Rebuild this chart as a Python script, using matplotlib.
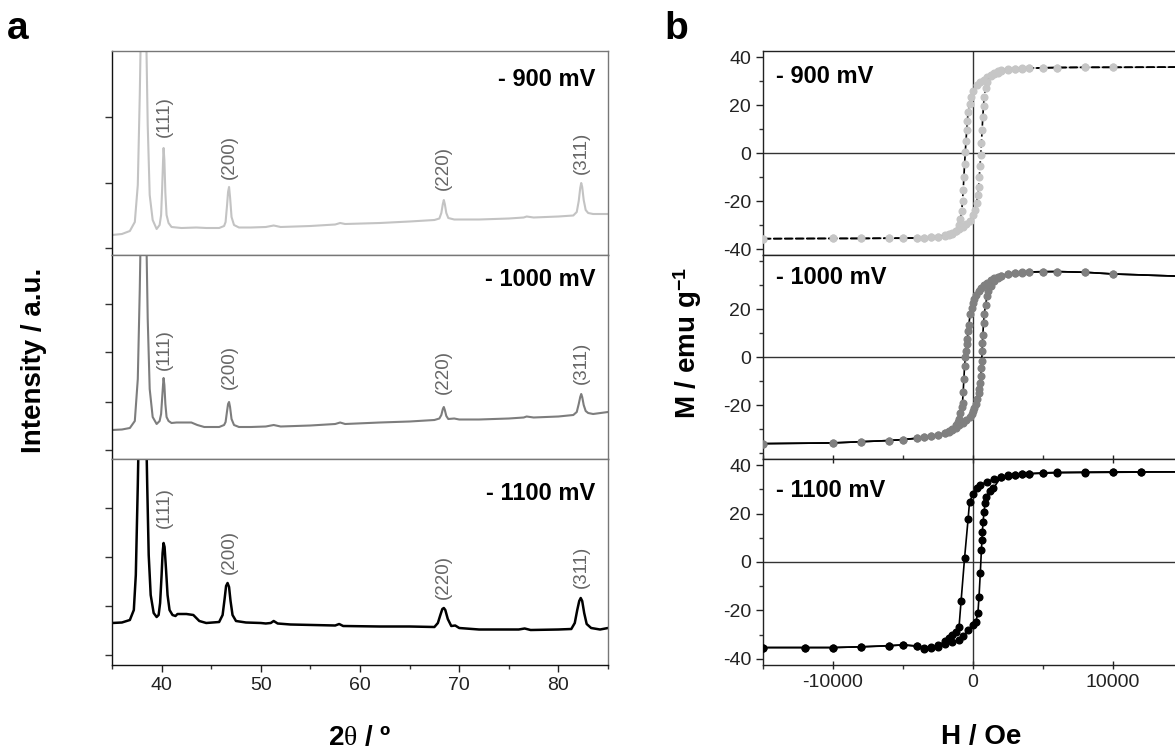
import matplotlib
matplotlib.use("Agg")
import matplotlib.pyplot as plt
from matplotlib.ticker import MultipleLocator

plt.rcParams['font.family'] = ['Liberation Sans', 'DejaVu Sans']
plt.rcParams['mathtext.fontset'] = 'custom'
plt.rcParams['mathtext.rm'] = 'Liberation Serif'
plt.rcParams['mathtext.it'] = 'Liberation Serif'
plt.rcParams['mathtext.bf'] = 'Liberation Sans:bold'
plt.rcParams['axes.unicode_minus'] = False

# ---------------- XRD data (2theta, intensity a.u.) ----------------
tt_900 = [35.0, 36.0, 36.8, 37.3, 37.6, 37.8, 38.0, 38.2, 38.4, 38.6, 38.8, 39.1, 39.5, 39.8, 39.95,
          40.05, 40.15, 40.2, 40.28, 40.38, 40.5, 40.7, 41.0, 42.0, 43.5, 44.5, 45.8, 46.3, 46.45,
          46.6, 46.7, 46.8, 46.9, 47.05, 47.3, 47.8, 49.0, 50.5, 51.3, 52.0, 55.0, 57.5, 58.0,
          58.5, 62.0, 65.0, 67.5, 68.0, 68.2, 68.35, 68.45, 68.55, 68.7, 68.9, 69.5, 72.0, 75.0,
          76.5, 76.8, 77.5, 80.0, 81.5, 81.85, 82.05, 82.2, 82.3, 82.4, 82.55, 82.75, 83.0, 83.5,
          85.0]
int_900 = [20, 21, 24, 33, 70, 160, 280, 300, 250, 130, 60, 35, 26, 30, 40,
           65, 95, 107, 95, 62, 40, 32, 28, 27, 27.5, 27, 27, 29, 33,
           50, 63, 68, 58, 38, 30, 27.5, 27.5, 28, 29.5, 28, 29, 30.5, 32,
           31, 32, 33.5, 35, 36.5, 42, 51, 55, 51, 42, 37, 35.5, 35.5, 36.5,
           37.5, 38.5, 37.5, 38.5, 39.5, 43, 54, 67, 72, 68, 55, 45, 42, 41,
           41]

tt_1000 = [35.0, 36.0, 36.8, 37.3, 37.6, 37.8, 38.0, 38.2, 38.4, 38.6, 38.8, 39.1, 39.5, 39.8, 39.95,
           40.05, 40.15, 40.2, 40.28, 40.38, 40.5, 40.7, 41.0, 41.5, 43.0, 43.6, 44.3, 45.8, 46.3,
           46.45, 46.6, 46.7, 46.8, 46.9, 47.05, 47.3, 47.8, 49.0, 50.5, 51.3, 52.0, 55.0, 57.5,
           58.0, 58.5, 62.0, 65.0, 67.5, 68.0, 68.2, 68.35, 68.45, 68.55, 68.7, 68.9, 69.5, 70.0,
           72.0, 75.0, 76.5, 76.8, 77.5, 80.0, 81.5, 81.85, 82.05, 82.2, 82.3, 82.4, 82.55, 82.75,
           83.0, 83.5, 85.0]
int_1000 = [29, 29.5, 31, 38, 80, 170, 290, 300, 260, 140, 70, 42, 35, 38, 45,
            60, 75, 81, 74, 55, 42, 38, 36, 36.5, 36.5, 34, 32, 32, 34,
            37, 48, 55, 57, 52, 40, 34, 32, 32, 32.5, 34, 32.5, 33.5, 35,
            36.5, 35, 36.5, 37.5, 39, 40.5, 44, 50, 52, 49, 43, 40, 40.5, 39.5,
            39.5, 40.5, 41.5, 42.5, 41.5, 42.5, 44, 47, 55, 62, 65, 62, 54, 48,
            46, 45, 47]

tt_1100 = [35.0, 36.0, 36.8, 37.2, 37.4, 37.6, 37.8, 38.0, 38.2, 38.4, 38.55, 38.7, 38.9, 39.2, 39.5,
           39.7, 39.85, 40.0, 40.1, 40.2, 40.3, 40.45, 40.6, 40.8, 41.1, 41.4, 41.6, 42.5, 43.2,
           43.8, 44.5, 45.8, 46.15, 46.35, 46.5, 46.65, 46.8, 46.95, 47.15, 47.5, 48.5, 50.0, 50.5,
           51.0, 51.3, 51.7, 53.0, 57.5, 57.9, 58.3, 62.0, 65.0, 67.5, 67.85, 68.1, 68.3, 68.45,
           68.6, 68.85, 69.2, 69.6, 70.0, 72.0, 76.0, 76.6, 77.2, 80.0, 81.3, 81.65, 81.9, 82.1,
           82.25, 82.4, 82.6, 82.85, 83.3, 84.2, 85.0]
int_1100 = [42, 42.5, 45, 55, 90, 180, 290, 320, 310, 260, 180, 110, 70, 52, 48,
            50, 62, 90, 112, 122, 118, 95, 70, 55, 50, 49, 51, 51, 50,
            44, 42, 43, 50, 66, 79, 82, 78, 64, 50, 44, 42.5, 42, 41.5,
            42, 44, 41.5, 40.5, 39.5, 41, 39, 38.5, 38.5, 38, 42, 50, 56, 57,
            55, 46, 39, 39.5, 37, 35.5, 35.5, 36.5, 35, 35.5, 36, 42, 55, 64,
            67, 64, 52, 41, 37, 35.5, 37]

hkl = ['(111)', '(200)', '(220)', '(311)']
hkl_x = [40.3, 46.8, 68.4, 82.3]
hkl_y_900 = [138, 98, 87, 102]
hkl_y_1000 = [109, 92, 87, 96]
hkl_y_1100 = [157, 113, 88, 98]

# ---------------- VSM hysteresis data (H / Oe, M / emu g-1) ----------------
H_dn_900 = [15000, 10000, 8000, 6000, 5000, 4000, 3500, 3000, 2500, 2000, 1750, 1500, 1250, 1000,
            750, 500, 250, 0, -150, -250, -350, -400, -450, -500, -550, -600, -650, -700, -750,
            -800, -900, -1000, -1250, -1500, -1750, -2000, -2500, -3000, -3500, -4000, -5000,
            -6000, -8000, -10000, -15000]
M_dn_900 = [35.8, 35.7, 35.7, 35.6, 35.5, 35.3, 35.2, 35.0, 34.6, 34.0, 33.5, 33.0, 32.3, 31.5,
            30.6, 29.5, 28.2, 25.8, 23.5, 20.5, 17.0, 13.5, 9.5, 5.0, 0.5, -4.5, -10.0, -15.5, -20.0,
            -24.0, -27.5, -30.0, -32.5, -33.6, -34.2, -34.6, -35.0, -35.2, -35.3, -35.4, -35.5,
            -35.5, -35.6, -35.6, -35.7]
H_up_900 = [-15000, -10000, -8000, -6000, -5000, -4000, -3500, -3000, -2500, -2000, -1750, -1500,
            -1250, -1000, -750, -500, -250, 0, 150, 250, 350, 400, 450, 500, 550, 600, 650, 700,
            750, 800, 900, 1000, 1250, 1500, 1750, 2000, 2500, 3000, 3500, 4000, 5000, 6000, 8000,
            10000, 15000]
M_up_900 = [-35.7, -35.6, -35.6, -35.5, -35.5, -35.4, -35.3, -35.1, -34.8, -34.2, -33.8, -33.2,
            -32.5, -31.7, -30.8, -29.6, -28.4, -26.0, -23.8, -21.0, -17.5, -14.0, -10.0, -5.5, -1.0,
            4.0, 9.5, 15.0, 19.5, 23.5, 27.0, 29.5, 32.0, 33.3, 34.0, 34.5, 35.0, 35.2, 35.3, 35.4,
            35.5, 35.6, 35.7, 35.7, 35.8]

H_dn_1000 = [15000, 10000, 8000, 6000, 5000, 4000, 3500, 3000, 2500, 2000, 1750, 1500, 1250, 1000,
             800, 600, 400, 200, 100, 0, -100, -200, -300, -350, -400, -450, -500, -550, -600,
             -650, -700, -750, -800, -900, -1000, -1100, -1250, -1500, -1750, -2000, -2500, -3000,
             -3500, -4000, -5000, -6000, -8000, -10000, -15000]
M_dn_1000 = [33.6, 34.6, 35.3, 35.6, 35.5, 35.4, 35.2, 34.9, 34.5, 33.9, 33.4, 32.8, 32.0, 31.0,
             30.0, 28.8, 27.4, 25.8, 24.3, 22.5, 20.5, 17.8, 13.5, 11.0, 7.5, 5.5, 2.5, 0.0, -3.7,
             -9.0, -14.5, -19.0, -21.0, -23.5, -26.0, -27.0, -28.2, -30.0, -31.0, -31.7, -32.6, -33.1,
             -33.4, -33.8, -34.4, -34.8, -35.3, -35.8, -36.1]
H_up_1000 = [-15000, -10000, -8000, -6000, -5000, -4000, -3500, -3000, -2500, -2000, -1750, -1500,
             -1250, -1000, -750, -500, -250, -100, 0, 100, 200, 300, 400, 450, 500, 550, 600, 625,
             650, 675, 700, 750, 800, 900, 1000, 1100, 1250, 1500, 1750, 2000, 2500, 3000, 3500,
             4000, 5000, 6000, 8000, 10000, 15000]
M_up_1000 = [-36.1, -35.8, -35.3, -34.8, -34.4, -33.9, -33.5, -33.1, -32.6, -31.8, -31.2, -30.4,
             -29.5, -28.5, -27.4, -26.3, -24.8, -23.8, -22.6, -21.2, -19.5, -17.5, -15.2, -13.2,
             -10.8, -8.0, -4.5, -1.5, 2.5, 6.0, 9.0, 14.0, 18.0, 21.5, 25.5, 27.5, 29.5, 31.5, 32.9,
             33.6, 34.6, 35.1, 35.3, 35.4, 35.6, 35.6, 35.3, 34.6, 33.6]

H_dn_1100 = [15000, 12000, 10000, 8000, 6000, 5000, 4000, 3500, 3000, 2500, 2000, 1500, 1000, 500,
             250, 0, -250, -350, -600, -850, -1000, -1250, -1500, -1750, -2000, -2500, -3000,
             -3500, -4000, -5000, -6000, -8000, -10000, -12000, -15000]
M_dn_1100 = [37.2, 37.1, 37.0, 36.9, 36.8, 36.6, 36.4, 36.2, 36.0, 35.6, 35.0, 34.2, 33.2, 31.7,
             30.4, 28.1, 24.6, 17.7, 1.8, -16.0, -27.0, -29.0, -30.0, -31.5, -32.8, -34.3, -35.0,
             -35.6, -34.6, -34.2, -34.6, -35.0, -35.3, -35.3, -35.3]
H_up_1100 = [-15000, -12000, -10000, -8000, -6000, -5000, -4000, -3500, -3000, -2500, -2000, -1500,
             -1000, -700, -350, 0, 200, 350, 430, 520, 600, 640, 670, 720, 790, 860, 950, 1200,
             1450, 2000, 2500, 3000, 3500, 4000, 5000, 6000, 8000, 10000, 12000, 15000]
M_up_1100 = [-35.3, -35.3, -35.3, -35.0, -34.5, -34.2, -34.8, -35.8, -35.5, -35.0, -34.0, -33.0,
             -32.0, -30.7, -28.0, -26.0, -24.6, -21.2, -14.3, -4.7, 4.9, 9.0, 12.5, 16.6, 20.7,
             24.2, 27.0, 29.1, 30.4, 35.0, 35.7, 36.1, 36.3, 36.5, 36.8, 37.0, 37.1, 37.2, 37.2, 37.2]

labels = ['- 900 mV', '- 1000 mV', '- 1100 mV']

fig = plt.figure(figsize=(11.75, 7.5), dpi=100)

# ---------------- panel a ----------------
W, H = 1175.0, 750.0
lx0, lx1 = 112, 608
rows = [(51, 255), (255, 459), (459, 665)]
xrd = [(tt_900, int_900, '#c3c3c3', 1.5, hkl_y_900, [7, 72, 138], 175),
       (tt_1000, int_1000, '#7d7d7d', 1.5, hkl_y_1000, [9, 57, 107, 155], 179),
       (tt_1100, int_1100, '#000000', 1.8, hkl_y_1100, [10, 59, 108, 157], 172)]

for i, (top, bot) in enumerate(rows):
    ax = fig.add_axes([lx0 / W, 1 - bot / H, (lx1 - lx0) / W, (bot - top) / H])
    tt, inten, col, lw, hy, yt, ly = xrd[i]
    ax.plot(tt, inten, color=col, lw=lw)
    ax.set_xlim(35, 85)
    ax.set_ylim(0, bot - top)
    ax.set_yticks(yt)
    ax.set_yticklabels([])
    for lab, x, y in zip(hkl, hkl_x, hy):
        ax.text(x, y, lab, rotation=90, ha='center', va='center', fontsize=13.5, color='#666666')
    ax.text(83.7, ly, labels[i], ha='right', va='center', fontsize=17, fontweight='bold')
    for s in ax.spines.values():
        s.set_color('#777777')
        s.set_linewidth(1.0)
    ax.spines['left'].set_color('#111111')
    ax.tick_params(axis='y', direction='out', length=5, width=1, color='#333333')
    if i < 2:
        ax.tick_params(axis='x', bottom=False, labelbottom=False)
    else:
        ax.spines['bottom'].set_color('#111111')
        ax.set_xticks([40, 50, 60, 70, 80])
        ax.xaxis.set_minor_locator(MultipleLocator(5))
        ax.tick_params(axis='x', which='major', direction='out', length=5, width=1,
                       labelsize=14, colors='#222222')
        ax.tick_params(axis='x', which='minor', direction='out', length=3, width=1, color='#333333')

# ---------------- panel b ----------------
rx0, rx1 = 763, 1183
vsm = [(H_dn_900, M_dn_900, H_up_900, M_up_900, '#c6c6c6', (0, (5, 1.6)), [-40, -20, 0, 20, 40], 32.0),
       (H_dn_1000, M_dn_1000, H_up_1000, M_up_1000, '#808080', '-', [-20, 0, 20], 33.2),
       (H_dn_1100, M_dn_1100, H_up_1100, M_up_1100, '#000000', '-', [-40, -20, 0, 20, 40], 29.7)]

for i, (top, bot) in enumerate(rows):
    ax = fig.add_axes([rx0 / W, 1 - bot / H, (rx1 - rx0) / W, (bot - top) / H])
    hd, md, hu, mu, mcol, ls, yt, ly = vsm[i]
    ax.axhline(0, color='#333333', lw=1)
    ax.axvline(0, color='#333333', lw=1)
    for hh, mm in ((hd, md), (hu, mu)):
        ax.plot(hh, mm, color='black', lw=1.2, ls=ls, marker='o', markersize=4.8,
                markerfacecolor=mcol, markeredgecolor=mcol, zorder=3)
    ax.set_xlim(-15000, 15000)
    ax.set_ylim(-42.5, 42.5)
    ax.set_yticks(yt)
    ax.yaxis.set_minor_locator(MultipleLocator(10))
    ax.tick_params(axis='y', which='major', direction='out', length=5, width=1,
                   labelsize=14, colors='#222222')
    ax.tick_params(axis='y', which='minor', direction='out', length=3, width=1, color='#333333')
    ax.text(-14100, ly, labels[i], ha='left', va='center', fontsize=17, fontweight='bold')
    for s in ax.spines.values():
        s.set_color('#222222')
        s.set_linewidth(1.0)
    ax.spines['right'].set_visible(False)
    ax.set_xticks([-10000, 0, 10000])
    ax.xaxis.set_minor_locator(MultipleLocator(5000))
    if i < 2:
        ax.tick_params(axis='x', which='both', bottom=False, labelbottom=False)
    else:
        ax.tick_params(axis='x', which='major', direction='out', length=5, width=1,
                       labelsize=14, colors='#222222')
        ax.tick_params(axis='x', which='minor', direction='out', length=3, width=1, color='#333333')
        ax.tick_params(axis='x', which='both', top=True)
        ax.tick_params(axis='x', which='major', direction='inout', length=6)

# ---------------- labels ----------------
fig.text(18 / W, 1 - 29 / H, 'a', ha='center', va='center', fontsize=28, fontweight='bold')
fig.text(676 / W, 1 - 29 / H, 'b', ha='center', va='center', fontsize=28, fontweight='bold')
fig.text(34 / W, 1 - 360 / H, 'Intensity / a.u.', rotation=90, ha='center', va='center',
         fontsize=20, fontweight='bold')
fig.text(688 / W, 1 - 343 / H, r'M / emu g$^{\mathbf{-1}}$', rotation=90, ha='center', va='center',
         fontsize=20, fontweight='bold')
fig.text(360 / W, 1 - 738 / H, r'2$\theta$ / º', ha='center', va='center',
         fontsize=20, fontweight='bold')
fig.text(981 / W, 1 - 737 / H, 'H / Oe', ha='center', va='center', fontsize=20, fontweight='bold')

fig.savefig('out.png', dpi=100)
